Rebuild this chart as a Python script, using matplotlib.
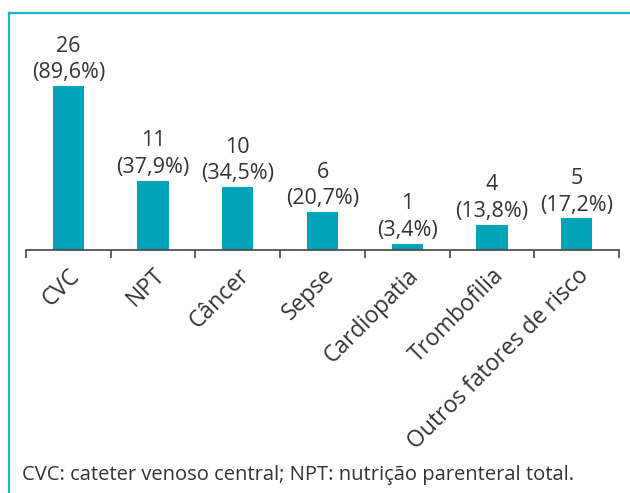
import matplotlib
matplotlib.use("Agg")
import matplotlib.pyplot as plt
from matplotlib.lines import Line2D

plt.rcParams['font.family'] = ['Open Sans', 'DejaVu Sans']

categories = ["CVC", "NPT", "Câncer", "Sepse", "Cardiopatia", "Trombofilia", "Outros fatores de risco"]
counts = [26, 11, 10, 6, 1, 4, 5]
percents = ["89,6%", "37,9%", "34,5%", "20,7%", "3,4%", "13,8%", "17,2%"]
footnote = "CVC: cateter venoso central; NPT: nutrição parenteral total."

bar_color = "#00A3B8"
frame_color = "#1DB4C8"
text_color = "#333333"

W, H = 630, 493
fig = plt.figure(figsize=(W / 100, H / 100), dpi=100)

ax_left = 26 / W
ax_right = 619 / W
ax_bottom = (H - 250) / H
ymax = 30
px_per_unit = 6.31
ax_height = ymax * px_per_unit / H
ax = fig.add_axes([ax_left, ax_bottom, ax_right - ax_left, ax_height])

x = list(range(len(categories)))
ax.bar(x, counts, width=0.37, color=bar_color, zorder=2)
ax.set_xlim(-0.5, len(categories) - 0.5)
ax.set_ylim(0, ymax)

for xi, c, p in zip(x, counts, percents):
    ax.annotate(f"{c}\n({p})", (xi, c), xytext=(0, 2), textcoords="offset points",
                ha="center", va="bottom", fontsize=15.5, color=text_color, linespacing=1.35)

for s in ["top", "right", "left"]:
    ax.spines[s].set_visible(False)
ax.spines["bottom"].set_color("#444444")
ax.spines["bottom"].set_linewidth(1.2)
ax.set_yticks([])

ax.set_xticks([i - 0.5 for i in range(len(categories) + 1)], minor=False)
ax.set_xticklabels([])
ax.tick_params(axis="x", which="major", length=6, width=1.2, color="#444444", direction="out")
ax.set_xticks(x, minor=True)
ax.set_xticklabels(categories, minor=True, rotation=45, ha="right", va="top",
                   rotation_mode="anchor", fontsize=16.5, color=text_color)
ax.tick_params(axis="x", which="minor", length=0, pad=10)

fig.add_artist(Line2D([9 / W, 1], [1 - 13 / H, 1 - 13 / H], color=frame_color, lw=1.6,
                      transform=fig.transFigure))
fig.add_artist(Line2D([9 / W, 9 / W], [0, 1 - 13 / H], color=frame_color, lw=1.6,
                      transform=fig.transFigure))

fig.text(22 / W, 1 - 475 / H, footnote, fontsize=14.5, color=text_color, ha="left", va="center")

fig.savefig("out.png", dpi=100, facecolor="white")
